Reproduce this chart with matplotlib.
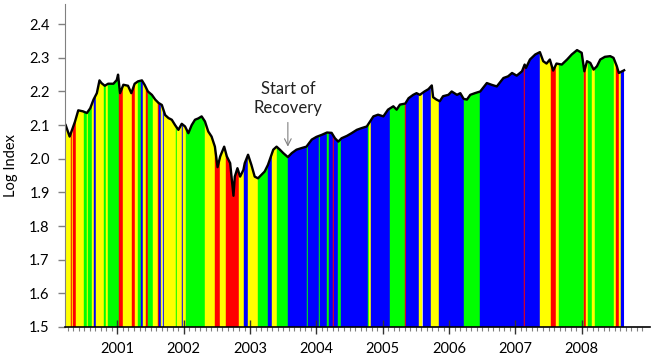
import matplotlib.pyplot as plt
import numpy as np

plt.rcParams['font.family'] = ['Lato', 'DejaVu Sans']

# log index (decimal years)
years = [2000.22, 2000.28, 2000.36, 2000.41, 2000.48, 2000.54, 2000.59, 2000.64, 2000.69, 2000.73,
         2000.76, 2000.81, 2000.86, 2000.94, 2000.99, 2001.01, 2001.04, 2001.09, 2001.16, 2001.21,
         2001.26, 2001.31, 2001.37, 2001.41, 2001.46, 2001.52, 2001.57, 2001.62, 2001.67, 2001.72,
         2001.77, 2001.82, 2001.87, 2001.92, 2001.97, 2002.02, 2002.07, 2002.12, 2002.17, 2002.22,
         2002.27, 2002.32, 2002.37, 2002.42, 2002.47, 2002.51, 2002.55, 2002.61, 2002.65, 2002.70,
         2002.75, 2002.77, 2002.81, 2002.85, 2002.90, 2002.92, 2002.97, 2003.02, 2003.07, 2003.12,
         2003.17, 2003.22, 2003.27, 2003.35, 2003.40, 2003.45, 2003.50, 2003.57, 2003.63, 2003.70,
         2003.78, 2003.85, 2003.93, 2004.00, 2004.08, 2004.16, 2004.23, 2004.28, 2004.33, 2004.38,
         2004.46, 2004.53, 2004.61, 2004.68, 2004.76, 2004.81, 2004.86, 2004.93, 2005.01, 2005.08,
         2005.16, 2005.21, 2005.26, 2005.34, 2005.39, 2005.46, 2005.51, 2005.56, 2005.63, 2005.69,
         2005.74, 2005.76, 2005.81, 2005.86, 2005.91, 2005.99, 2006.04, 2006.12, 2006.17, 2006.22,
         2006.27, 2006.32, 2006.39, 2006.47, 2006.57, 2006.64, 2006.72, 2006.82, 2006.89, 2006.95,
         2007.02, 2007.10, 2007.14, 2007.16, 2007.22, 2007.30, 2007.37, 2007.42, 2007.47, 2007.52,
         2007.57, 2007.62, 2007.70, 2007.78, 2007.85, 2007.93, 2008.00, 2008.04, 2008.08, 2008.13,
         2008.18, 2008.23, 2008.28, 2008.35, 2008.43, 2008.48, 2008.53, 2008.56, 2008.61, 2008.64]
log_index = [2.100, 2.066, 2.110, 2.144, 2.141, 2.136, 2.150, 2.176, 2.195, 2.233,
             2.225, 2.217, 2.223, 2.223, 2.234, 2.250, 2.195, 2.220, 2.217, 2.195,
             2.223, 2.230, 2.233, 2.220, 2.200, 2.190, 2.176, 2.166, 2.160, 2.130,
             2.121, 2.116, 2.100, 2.086, 2.104, 2.096, 2.076, 2.100, 2.116, 2.120,
             2.126, 2.111, 2.081, 2.066, 2.036, 1.975, 2.007, 2.036, 2.007, 1.987,
             1.890, 1.947, 1.972, 1.947, 1.967, 1.987, 2.012, 1.982, 1.947, 1.942,
             1.952, 1.962, 1.982, 2.027, 2.036, 2.027, 2.017, 2.005, 2.017, 2.027,
             2.032, 2.036, 2.057, 2.065, 2.071, 2.078, 2.077, 2.061, 2.051, 2.061,
             2.068, 2.076, 2.086, 2.091, 2.096, 2.111, 2.126, 2.131, 2.126, 2.146,
             2.156, 2.146, 2.161, 2.164, 2.180, 2.190, 2.195, 2.190, 2.200, 2.207,
             2.218, 2.183, 2.176, 2.171, 2.186, 2.190, 2.200, 2.190, 2.195, 2.178,
             2.176, 2.190, 2.195, 2.200, 2.225, 2.220, 2.215, 2.240, 2.245, 2.255,
             2.247, 2.260, 2.280, 2.270, 2.295, 2.310, 2.317, 2.290, 2.283, 2.295,
             2.262, 2.283, 2.280, 2.295, 2.310, 2.323, 2.315, 2.260, 2.290, 2.285,
             2.265, 2.275, 2.295, 2.303, 2.305, 2.300, 2.275, 2.255, 2.260, 2.263]

# regime periods: start of each period and its colour code
seg_start = [2000.22, 2000.30, 2000.31, 2000.33, 2000.37, 2000.50, 2000.54, 2000.56, 2000.62, 2000.64,
             2000.68, 2000.80, 2000.83, 2000.86, 2001.03, 2001.08, 2001.22, 2001.27, 2001.31, 2001.36,
             2001.38, 2001.43, 2001.46, 2001.54, 2001.61, 2001.63, 2001.66, 2001.68, 2001.71, 2001.88,
             2001.90, 2001.97, 2001.99, 2002.04, 2002.32, 2002.47, 2002.55, 2002.63, 2002.83, 2002.91,
             2002.97, 2003.12, 2003.27, 2003.33, 2003.40, 2003.57, 2003.86, 2003.88, 2004.04, 2004.06,
             2004.16, 2004.19, 2004.25, 2004.26, 2004.32, 2004.37, 2004.78, 2004.80, 2004.82, 2005.11,
             2005.34, 2005.35, 2005.54, 2005.60, 2005.73, 2005.85, 2006.23, 2006.47, 2007.13, 2007.15,
             2007.37, 2007.54, 2007.61, 2007.66, 2008.03, 2008.04, 2008.06, 2008.09, 2008.15, 2008.20,
             2008.49, 2008.52, 2008.57, 2008.59]
seg_regime = ['Y', 'R', 'Y', 'R', 'Y', 'G', 'Y', 'G', 'Y', 'B',
              'Y', 'G', 'Y', 'G', 'R', 'Y', 'R', 'Y', 'G', 'B',
              'Y', 'R', 'G', 'Y', 'R', 'B', 'Y', 'B', 'Y', 'G',
              'Y', 'B', 'Y', 'G', 'Y', 'R', 'Y', 'R', 'Y', 'B',
              'Y', 'G', 'B', 'Y', 'G', 'B', 'G', 'B', 'G', 'B',
              'G', 'B', 'R', 'B', 'G', 'B', 'G', 'Y', 'B', 'G',
              'R', 'B', 'Y', 'B', 'Y', 'B', 'G', 'B', 'R', 'B',
              'Y', 'R', 'Y', 'G', 'Y', 'R', 'Y', 'G', 'Y', 'G',
              'Y', 'R', 'Y', 'B']
palette = {'Y': '#FFFF00', 'G': '#00FF00', 'R': '#FF0000', 'B': '#0000FF'}

year_ticks = [2001, 2002, 2003, 2004, 2005, 2006, 2007, 2008]
year_labels = ['2001', '2002', '2003', '2004', '2005', '2006', '2007', '2008']
y_ticks = [1.5, 1.6, 1.7, 1.8, 1.9, 2.0, 2.1, 2.2, 2.3, 2.4]
y_labels = ['1.5', '1.6', '1.7', '1.8', '1.9', '2.0', '2.1', '2.2', '2.3', '2.4']

fig = plt.figure(figsize=(6.64, 3.57), dpi=100)
ax = fig.add_axes([65 / 664, 30 / 357, 585 / 664, 323 / 357])

# area under the index, used to clip the coloured regime bands
area = ax.fill_between(years, 1.5, log_index, facecolor='none', edgecolor='none')
clip = area.get_paths()[0]
seg_end = seg_start[1:] + [years[-1]]
for a, b, r in zip(seg_start, seg_end, seg_regime):
    span = ax.axvspan(a, b, facecolor=palette[r], edgecolor=palette[r], lw=0.3)
    span.set_clip_path(clip, ax.transData)

ax.plot(years, log_index, color='black', lw=1.7)

ax.annotate('Start of\nRecovery', xy=(2003.57, 2.036), xytext=(2003.57, 2.18),
            ha='center', va='center', fontsize=12, color='#222222',
            arrowprops=dict(arrowstyle='->', color='#808080', lw=0.8, shrinkA=3, shrinkB=0))

ax.set_xlim(2000.21, 2009.03)
ax.set_ylim(1.5, 2.46)
ax.set_xticks(year_ticks)
ax.set_xticklabels(year_labels, fontsize=10.5)
ax.set_xticks(np.arange(2000.25, 2009.0, 1 / 12), minor=True)
ax.set_yticks(y_ticks)
ax.set_yticklabels(y_labels, fontsize=10.5)
ax.set_ylabel('Log Index', fontsize=10.5, labelpad=8)

ax.tick_params(axis='x', which='major', direction='inout', length=10, width=1,
               color='#333333', pad=6)
ax.tick_params(axis='x', which='minor', direction='out', length=3, width=0.8, color='#808080')
ax.tick_params(axis='y', direction='out', length=5, width=1, color='#808080', pad=6)

ax.spines['top'].set_visible(False)
ax.spines['right'].set_visible(False)
ax.spines['left'].set_color('#808080')
ax.spines['bottom'].set_color('black')
ax.spines['bottom'].set_linewidth(1.2)

fig.savefig('out.png', dpi=100)
